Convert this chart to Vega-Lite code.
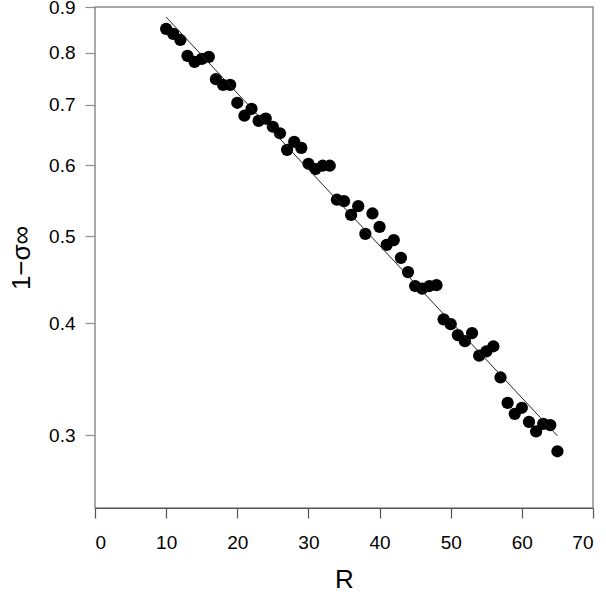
{
  "$schema": "https://vega.github.io/schema/vega-lite/v6.json",
  "width": 498,
  "height": 501,
  "autosize": {"type": "none"},
  "padding": {"left": 95, "top": 7, "right": 13, "bottom": 84},
  "background": "white",
  "config": {
    "view": {"stroke": "#8c8c8c", "strokeWidth": 1.5},
    "font": "Liberation Sans",
    "axis": {
      "grid": false,
      "labelFont": "Liberation Sans",
      "titleFont": "Liberation Sans",
      "labelColor": "#000",
      "titleColor": "#000",
      "labelFontSize": 19,
      "titleFontSize": 26,
      "titleFontWeight": "normal",
      "tickSize": 10,
      "tickColor": "#666",
      "tickWidth": 1.2
    }
  },
  "layer": [
    {
      "data": {"values": [
        {"R": 10, "s": 0.851}, {"R": 11, "s": 0.840}, {"R": 12, "s": 0.827}, {"R": 13, "s": 0.794},
        {"R": 14, "s": 0.782}, {"R": 15, "s": 0.788}, {"R": 16, "s": 0.792}, {"R": 17, "s": 0.748},
        {"R": 18, "s": 0.737}, {"R": 19, "s": 0.737}, {"R": 20, "s": 0.704}, {"R": 21, "s": 0.681},
        {"R": 22, "s": 0.693}, {"R": 23, "s": 0.672}, {"R": 24, "s": 0.676}, {"R": 25, "s": 0.662},
        {"R": 26, "s": 0.651}, {"R": 27, "s": 0.624}, {"R": 28, "s": 0.637}, {"R": 29, "s": 0.627},
        {"R": 30, "s": 0.602}, {"R": 31, "s": 0.594}, {"R": 32, "s": 0.599}, {"R": 33, "s": 0.599},
        {"R": 34, "s": 0.549}, {"R": 35, "s": 0.547}, {"R": 36, "s": 0.528}, {"R": 37, "s": 0.540},
        {"R": 38, "s": 0.503}, {"R": 39, "s": 0.530}, {"R": 40, "s": 0.512}, {"R": 41, "s": 0.489},
        {"R": 42, "s": 0.495}, {"R": 43, "s": 0.473}, {"R": 44, "s": 0.456}, {"R": 45, "s": 0.440},
        {"R": 46, "s": 0.437}, {"R": 47, "s": 0.440}, {"R": 48, "s": 0.441}, {"R": 49, "s": 0.404},
        {"R": 50, "s": 0.399}, {"R": 51, "s": 0.388}, {"R": 52, "s": 0.382}, {"R": 53, "s": 0.390},
        {"R": 54, "s": 0.368}, {"R": 55, "s": 0.372}, {"R": 56, "s": 0.377}, {"R": 57, "s": 0.348},
        {"R": 58, "s": 0.326}, {"R": 59, "s": 0.317}, {"R": 60, "s": 0.322}, {"R": 61, "s": 0.3105},
        {"R": 62, "s": 0.303}, {"R": 63, "s": 0.309}, {"R": 64, "s": 0.308}, {"R": 65, "s": 0.288}
      ]},
      "mark": {"type": "circle", "size": 150, "opacity": 1, "color": "#000"},
      "encoding": {
        "x": {
          "field": "R", "type": "quantitative",
          "scale": {"domain": [0, 70], "nice": false, "zero": false},
          "axis": {"values": [0, 10, 20, 30, 40, 50, 60, 70], "title": "R", "labelPadding": 15, "titlePadding": 14, "domainColor": "#555", "domainWidth": 1.2, "tickColor": "#555"}
        },
        "y": {
          "field": "s", "type": "quantitative",
          "scale": {"type": "log", "domain": [0.249, 0.9], "nice": false},
          "axis": {"values": [0.3, 0.4, 0.5, 0.6, 0.7, 0.8, 0.9], "format": ".1f", "title": "1−σ∞", "domain": false, "labelPadding": 10, "titlePadding": 14, "tickColor": "#8c8c8c"}
        }
      }
    },
    {
      "data": {"values": [{"R": 10, "s": 0.877}, {"R": 65, "s": 0.2996}]},
      "mark": {"type": "line", "color": "#222", "strokeWidth": 1},
      "encoding": {
        "x": {"field": "R", "type": "quantitative"},
        "y": {"field": "s", "type": "quantitative"}
      }
    }
  ]
}
